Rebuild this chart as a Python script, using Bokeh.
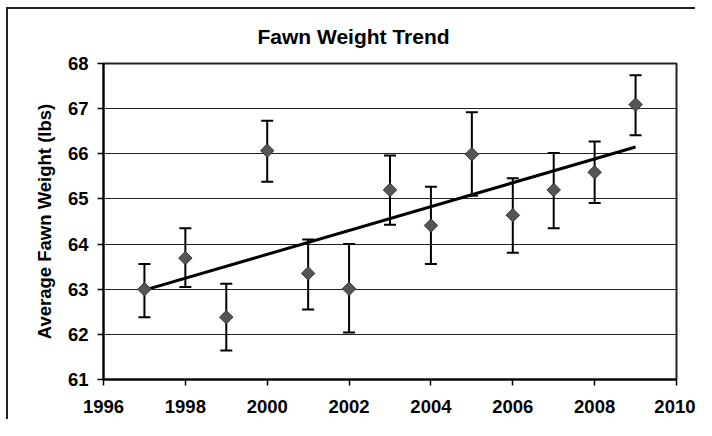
from bokeh.plotting import figure
from bokeh.models import Whisker, ColumnDataSource, FixedTicker, TeeHead, Range1d
from bokeh.embed import file_html
from bokeh.resources import INLINE

years = [1997, 1998, 1999, 2000, 2001, 2002, 2003, 2004, 2005, 2006, 2007, 2008, 2009]
weights = [63.00, 63.69, 62.38, 66.07, 63.35, 63.01, 65.20, 64.41, 65.99, 64.64, 65.20, 65.59, 67.09]
upper = [63.56, 64.35, 63.12, 66.73, 64.10, 64.00, 65.96, 65.27, 66.92, 65.46, 66.02, 66.27, 67.74]
lower = [62.38, 63.05, 61.64, 65.38, 62.55, 62.04, 64.43, 63.56, 65.07, 63.81, 64.35, 64.91, 66.41]
trend_years = [1997, 2009]
trend_values = [62.98, 66.15]
x_ticks = [1996, 1998, 2000, 2002, 2004, 2006, 2008, 2010]
y_ticks = [61, 62, 63, 64, 65, 66, 67, 68]

FONT = "Liberation Sans"

p = figure(width=689, height=412, output_backend="svg", toolbar_location=None,
           x_range=Range1d(1996, 2010), y_range=Range1d(61, 68),
           title="Fawn Weight Trend",
           min_border_left=95, min_border_right=21, min_border_top=54, min_border_bottom=42)
p.styles = {"border-left": "2px solid #222222", "border-top": "2px solid #222222",
            "box-sizing": "border-box", "margin-left": "6px", "margin-top": "7px"}

p.title.align = "left"
p.title.vertical_align = "top"
p.title.offset = 154
p.title.standoff = 28
p.title.text_font = FONT
p.title.text_font_size = "21px"
p.title.text_font_style = "bold"
p.title.text_color = "black"

src = ColumnDataSource(dict(x=years, y=weights, upper=upper, lower=lower))

p.add_layout(Whisker(source=src, base="x", upper="upper", lower="lower",
                     line_color="black", line_width=2,
                     upper_head=TeeHead(size=12, line_color="black", line_width=2),
                     lower_head=TeeHead(size=12, line_color="black", line_width=2)))

p.line(trend_years, trend_values, line_color="black", line_width=3)

p.scatter("x", "y", source=src, marker="square", angle=0.785398, size=9.5,
          fill_color="#555555", line_color="#333333", line_width=1)

p.xaxis.ticker = FixedTicker(ticks=x_ticks)
p.yaxis.ticker = FixedTicker(ticks=y_ticks)
p.yaxis.axis_label = "Average Fawn Weight (lbs)"
for ax in (p.xaxis[0], p.yaxis[0]):
    ax.major_label_text_font = FONT
    ax.major_label_text_font_style = "bold"
    ax.major_label_text_font_size = "18.5px"
    ax.major_label_text_color = "black"
    ax.axis_line_color = "black"
    ax.axis_line_width = 2
    ax.major_tick_line_color = "black"
    ax.major_tick_line_width = 1.5
    ax.major_tick_out = 6
    ax.major_tick_in = 0
    ax.minor_tick_out = 0
    ax.minor_tick_in = 0
p.yaxis.axis_label_text_font = FONT
p.yaxis.axis_label_text_font_style = "bold"
p.yaxis.axis_label_text_font_size = "18.5px"
p.yaxis.axis_label_text_color = "black"
p.yaxis.axis_label_standoff = 10
p.yaxis.major_label_standoff = 9
p.xaxis.major_label_standoff = 14

p.xgrid.grid_line_color = None
p.ygrid.ticker = FixedTicker(ticks=y_ticks)
p.ygrid.grid_line_color = "#222222"
p.ygrid.grid_line_width = 1

p.outline_line_color = "#222222"
p.outline_line_width = 2
p.background_fill_color = "white"
p.border_fill_color = "white"

open("out.html", "w").write(file_html(p, INLINE))
